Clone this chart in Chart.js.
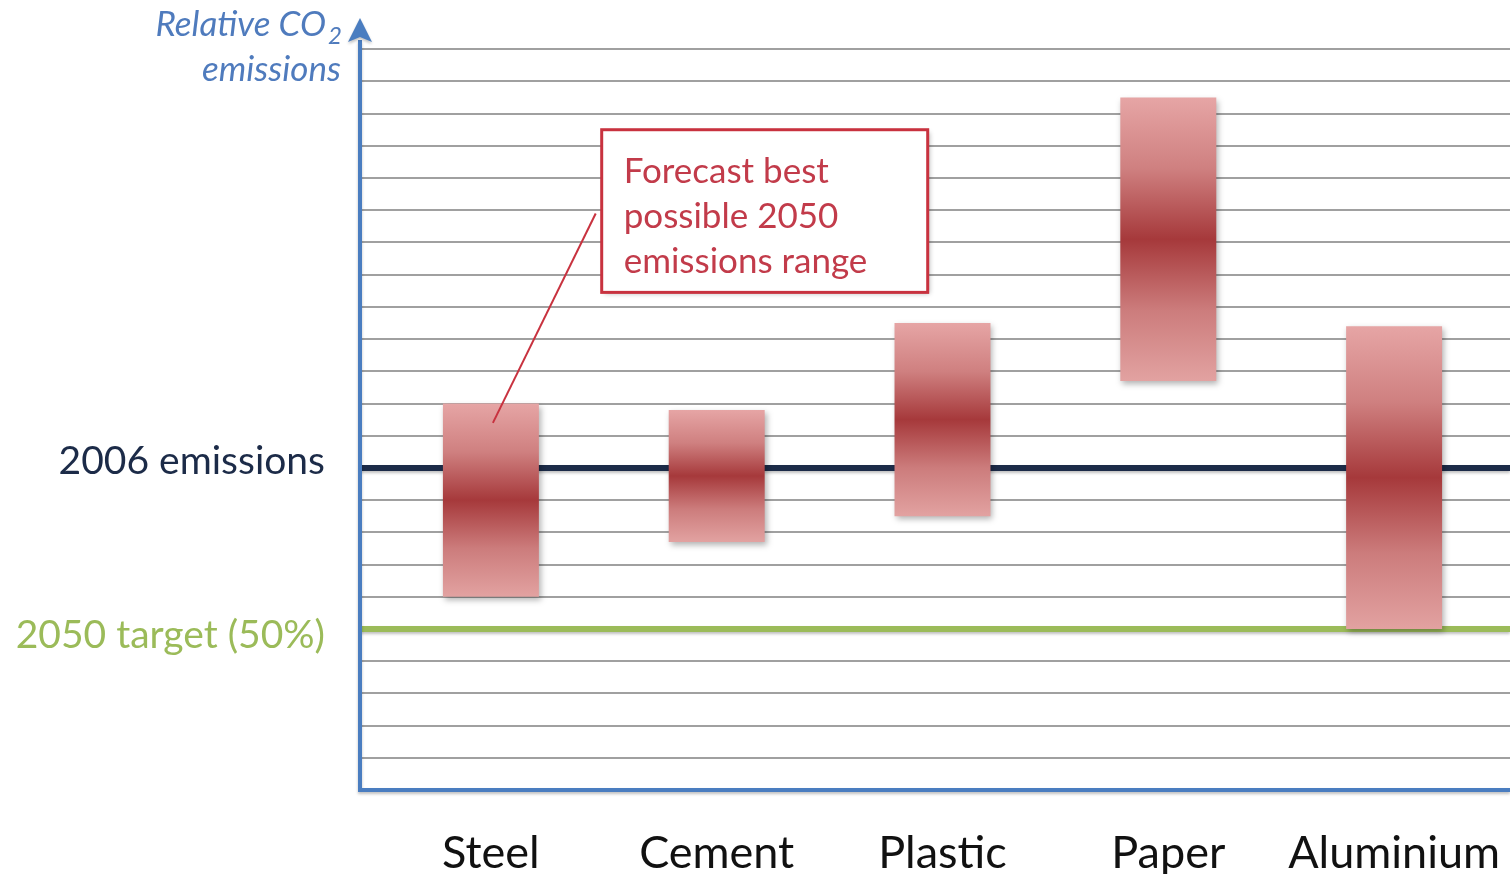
<!DOCTYPE html>
<html>
<head>
<meta charset="utf-8">
<script src="https://cdn.jsdelivr.net/npm/chart.js@4/dist/chart.umd.min.js"></script>
<style>
  html, body { margin: 0; padding: 0; background: #fff; overflow: hidden; }
  #chart { display: block; }
</style>
</head>
<body>
<canvas id="chart" width="1510" height="877"></canvas>
<script>
// sectors and their forecast 2050 emission range (2006 level = 100)
const categories = ['Steel', 'Cement', 'Plastic', 'Paper', 'Aluminium'];
const rangeLow = [60, 77, 85, 127, 50];
const rangeHigh = [120, 118, 145, 215, 144];

// horizontal reference levels
const levelValues = [100, 50];
const levelLabels = ['2006 emissions', '2050 target (50%)'];
const levelColors = ['#1c2b48', '#9bbb59'];

const calloutLines = ['Forecast best', 'possible 2050', 'emissions range'];

const FONT = 'Lato, "Open Sans", sans-serif';

// pink -> dark red -> pink, spanning the bar's own height
function barFill(context) {
  const chart = context.chart;
  if (context.type !== 'data' || !chart.chartArea) return '#c46a6a';
  const y = chart.scales.y;
  const [lo, hi] = context.raw;
  const top = y.getPixelForValue(hi);
  const bottom = y.getPixelForValue(lo);
  const g = chart.ctx.createLinearGradient(0, top, 0, bottom);
  g.addColorStop(0, '#e6a5a5');
  g.addColorStop(0.25, '#cf8080');
  g.addColorStop(0.5, '#a6393b');
  g.addColorStop(0.75, '#cc7c7c');
  g.addColorStop(1, '#e2a2a1');
  return g;
}

// grid, axes with arrow and the two reference levels, all under the bars
const backdrop = {
  id: 'backdrop',
  beforeDatasetsDraw(chart) {
    const { ctx, chartArea, scales: { y } } = chart;
    const axisX = chartArea.left - 18;
    const right = chart.width;
    const base = y.getPixelForValue(0);
    ctx.save();

    ctx.strokeStyle = '#a0a0a0';
    ctx.lineWidth = 2;
    y.ticks.forEach(t => {
      if (t.value <= 0 || t.value >= y.max) return;
      const py = Math.round(y.getPixelForValue(t.value));
      ctx.beginPath();
      ctx.moveTo(axisX, py);
      ctx.lineTo(right, py);
      ctx.stroke();
    });

    ctx.shadowColor = 'rgba(0,0,0,0.25)';
    ctx.shadowBlur = 3;
    ctx.shadowOffsetY = 2;
    levelValues.forEach((v, i) => {
      const py = y.getPixelForValue(v);
      ctx.strokeStyle = levelColors[i];
      ctx.lineWidth = 6;
      ctx.beginPath();
      ctx.moveTo(axisX, py);
      ctx.lineTo(right, py);
      ctx.stroke();
    });

    // axes
    ctx.strokeStyle = '#4a7dc0';
    ctx.fillStyle = '#4a7dc0';
    ctx.lineWidth = 4;
    ctx.beginPath();
    ctx.moveTo(axisX, 40);
    ctx.lineTo(axisX, base);
    ctx.lineTo(right, base);
    ctx.stroke();
    ctx.beginPath();
    ctx.moveTo(axisX, 18);
    ctx.lineTo(axisX + 12, 42);
    ctx.lineTo(axisX, 37);
    ctx.lineTo(axisX - 12, 42);
    ctx.closePath();
    ctx.fill();
    ctx.restore();
  },
  beforeDatasetDraw(chart) {
    const ctx = chart.ctx;
    ctx.save();
    ctx.shadowColor = 'rgba(0,0,0,0.3)';
    ctx.shadowBlur = 6;
    ctx.shadowOffsetX = 2;
    ctx.shadowOffsetY = 3;
  },
  afterDatasetDraw(chart) {
    chart.ctx.restore();
  },
  afterDatasetsDraw(chart) {
    const { ctx, chartArea, scales: { x, y } } = chart;
    const axisX = chartArea.left - 18;
    ctx.save();

    // level labels left of the axis
    ctx.textAlign = 'right';
    ctx.textBaseline = 'alphabetic';
    ctx.font = '39px ' + FONT;
    ctx.fillStyle = levelColors[0];
    ctx.fillText(levelLabels[0], axisX - 35, y.getPixelForValue(levelValues[0]) + 6);
    ctx.fillStyle = levelColors[1];
    ctx.fillText(levelLabels[1], axisX - 35, y.getPixelForValue(levelValues[1]) + 19);

    // axis title with subscript 2
    ctx.fillStyle = '#4f7bbd';
    ctx.font = 'italic 24px ' + FONT;
    const subW = ctx.measureText('2').width;
    ctx.fillText('2', axisX - 18, 44);
    ctx.font = 'italic 35px ' + FONT;
    ctx.fillText('Relative CO', axisX - 20 - subW, 36);
    ctx.fillText('emissions', axisX - 19, 81);

    // callout box pointing at the steel range
    const boxLeft = x.getPixelForValue(1) - 115;
    const boxRight = boxLeft + 326;
    const boxTop = y.getPixelForValue(205);
    const boxBottom = y.getPixelForValue(154.5);
    ctx.strokeStyle = '#c8323f';
    ctx.lineWidth = 2;
    ctx.beginPath();
    ctx.moveTo(x.getPixelForValue(0) + 2, y.getPixelForValue(114));
    ctx.lineTo(boxLeft - 6, y.getPixelForValue(179));
    ctx.stroke();

    ctx.shadowColor = 'rgba(0,0,0,0.3)';
    ctx.shadowBlur = 5;
    ctx.shadowOffsetX = 2;
    ctx.shadowOffsetY = 2;
    ctx.fillStyle = '#ffffff';
    ctx.fillRect(boxLeft, boxTop, boxRight - boxLeft, boxBottom - boxTop);
    ctx.shadowColor = 'transparent';
    ctx.lineWidth = 3;
    ctx.strokeRect(boxLeft, boxTop, boxRight - boxLeft, boxBottom - boxTop);

    ctx.fillStyle = '#c23b4a';
    ctx.textAlign = 'left';
    ctx.font = '35px ' + FONT;
    calloutLines.forEach((line, i) => {
      ctx.fillText(line, boxLeft + 22, boxTop + 53 + i * 45);
    });
    ctx.restore();
  }
};

new Chart(document.getElementById('chart'), {
  type: 'bar',
  data: {
    labels: categories,
    datasets: [{
      data: categories.map((c, i) => [rangeLow[i], rangeHigh[i]]),
      backgroundColor: barFill,
      borderWidth: 0,
      categoryPercentage: 1,
      barPercentage: 0.425
    }]
  },
  options: {
    responsive: false,
    animation: false,
    devicePixelRatio: 1,
    layout: { autoPadding: false, padding: { left: 378, right: 3, top: 17, bottom: 3 } },
    plugins: { legend: { display: false }, tooltip: { enabled: false } },
    scales: {
      x: {
        grid: { display: false, drawTicks: false },
        border: { display: false },
        ticks: { color: '#111', font: { family: FONT, size: 45 }, padding: 36 },
        afterFit(scale) {
          scale.height = 84;
          scale.paddingLeft = 0;
          scale.paddingRight = 0;
        }
      },
      y: {
        display: false,
        min: 0,
        max: 240,
        ticks: { stepSize: 10 }
      }
    }
  },
  plugins: [backdrop]
});
</script>
</body>
</html>
